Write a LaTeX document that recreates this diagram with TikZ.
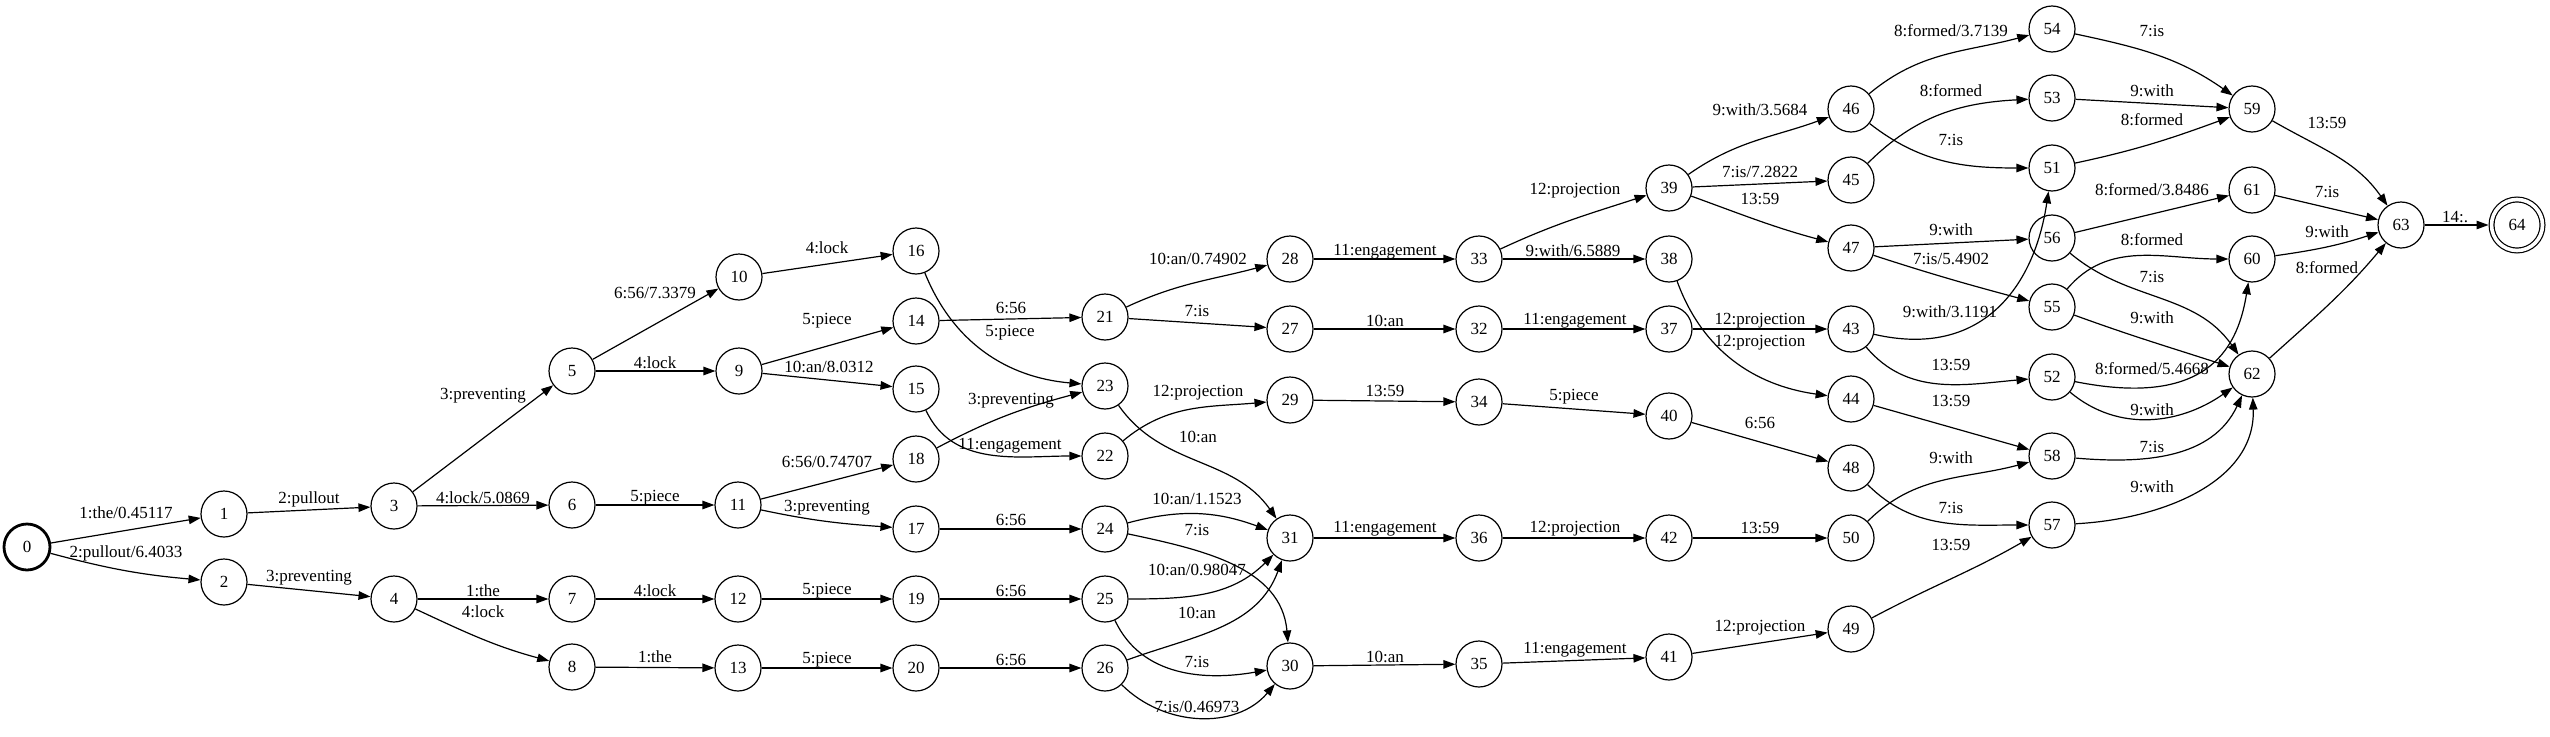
\documentclass[tikz,border=0pt]{standalone}
\usepackage{fontspec}
\setmainfont{Liberation Serif}
\usetikzlibrary{arrows.meta}
\begin{document}
\begin{tikzpicture}[x=1pt,y=1pt,
  st/.style={circle,draw,line width=1.2pt,minimum size=46pt,inner sep=0pt,font=\fontsize{17}{20}\selectfont},
  lbl/.style={inner sep=0pt,font=\fontsize{17}{20}\selectfont},
  e/.style={line width=1.2pt,-{Triangle[length=12pt,width=8.5pt]}}]
\useasboundingbox (0,0) rectangle (2550,-736);
% states
\node[st,line width=2.8pt] (n0) at (27,-547) {0};
\node[st] (n1) at (224,-514) {1};
\node[st] (n2) at (224,-582) {2};
\node[st] (n3) at (394,-506) {3};
\node[st] (n4) at (394,-599) {4};
\node[st] (n5) at (572,-371) {5};
\node[st] (n6) at (572,-505) {6};
\node[st] (n7) at (572,-599) {7};
\node[st] (n8) at (572,-667) {8};
\node[st] (n9) at (739,-371) {9};
\node[st] (n10) at (739,-277) {10};
\node[st] (n11) at (738,-505) {11};
\node[st] (n12) at (738,-599) {12};
\node[st] (n13) at (738,-668) {13};
\node[st] (n14) at (916,-321) {14};
\node[st] (n15) at (916,-389) {15};
\node[st] (n16) at (916,-251) {16};
\node[st] (n17) at (916,-529) {17};
\node[st] (n18) at (916,-459) {18};
\node[st] (n19) at (916,-599) {19};
\node[st] (n20) at (916,-668) {20};
\node[st] (n21) at (1105,-317) {21};
\node[st] (n22) at (1105,-456) {22};
\node[st] (n23) at (1105,-386) {23};
\node[st] (n24) at (1105,-529) {24};
\node[st] (n25) at (1105,-599) {25};
\node[st] (n26) at (1105,-668) {26};
\node[st] (n27) at (1290,-329) {27};
\node[st] (n28) at (1290,-259) {28};
\node[st] (n29) at (1290,-400) {29};
\node[st] (n30) at (1290,-666) {30};
\node[st] (n31) at (1290,-538) {31};
\node[st] (n32) at (1479,-329) {32};
\node[st] (n33) at (1479,-259) {33};
\node[st] (n34) at (1479,-402) {34};
\node[st] (n35) at (1479,-664) {35};
\node[st] (n36) at (1479,-538) {36};
\node[st] (n37) at (1669,-329) {37};
\node[st] (n38) at (1669,-259) {38};
\node[st] (n39) at (1669,-188) {39};
\node[st] (n40) at (1669,-416) {40};
\node[st] (n41) at (1669,-657) {41};
\node[st] (n42) at (1669,-538) {42};
\node[st] (n43) at (1851,-329) {43};
\node[st] (n44) at (1851,-399) {44};
\node[st] (n45) at (1851,-180) {45};
\node[st] (n46) at (1851,-109) {46};
\node[st] (n47) at (1851,-248) {47};
\node[st] (n48) at (1851,-468) {48};
\node[st] (n49) at (1851,-629) {49};
\node[st] (n50) at (1851,-538) {50};
\node[st] (n51) at (2052,-168) {51};
\node[st] (n52) at (2052,-377) {52};
\node[st] (n53) at (2052,-98) {53};
\node[st] (n54) at (2052,-29) {54};
\node[st] (n55) at (2052,-307) {55};
\node[st] (n56) at (2052,-238) {56};
\node[st] (n57) at (2052,-525) {57};
\node[st] (n58) at (2052,-456) {58};
\node[st] (n59) at (2252,-109) {59};
\node[st] (n60) at (2252,-259) {60};
\node[st] (n61) at (2252,-190) {61};
\node[st] (n62) at (2252,-374) {62};
\node[st] (n63) at (2401,-225) {63};
\node[st,minimum size=51pt,double,double distance=3.6pt,outer sep=3pt] (n64) at (2517,-225) {64};
% arcs
\draw[e] (n0) -- (n1) node[lbl] at (126,-513) {1:the/0.45117};
\draw[e] (n0) to[out=-15,in=175] (n2) node[lbl] at (126,-553) {2:pullout/6.4033};
\draw[e] (n1) -- (n3) node[lbl] at (309,-499) {2:pullout};
\draw[e] (n2) -- (n4) node[lbl] at (309,-578) {3:preventing};
\draw[e] (n3) -- (n5) node[lbl] at (483,-396) {3:preventing};
\draw[e] (n3) -- (n6) node[lbl] at (483,-498) {4:lock/5.0869};
\draw[e] (n4) -- (n7) node[lbl] at (483,-591) {1:the};
\draw[e] (n4) to[out=-25,in=165] (n8) node[lbl] at (483,-612) {4:lock};
\draw[e] (n5) -- (n10) node[lbl] at (655,-293) {6:56/7.3379};
\draw[e] (n5) -- (n9) node[lbl] at (655,-363) {4:lock};
\draw[e] (n6) -- (n11) node[lbl] at (655,-498) {5:piece};
\draw[e] (n7) -- (n12) node[lbl] at (655,-591) {4:lock};
\draw[e] (n8) -- (n13) node[lbl] at (655,-657) {1:the};
\draw[e] (n10) -- (n16) node[lbl] at (827,-248) {4:lock};
\draw[e] (n9) -- (n14) node[lbl] at (827,-321) {5:piece};
\draw[e] (n9) -- (n15) node[lbl] at (829,-367) {10:an/8.0312};
\draw[e] (n11) -- (n18) node[lbl] at (827,-462) {6:56/0.74707};
\draw[e] (n11) to[out=-12,in=176] (n17) node[lbl] at (827,-508) {3:preventing};
\draw[e] (n12) -- (n19) node[lbl] at (827,-591) {5:piece};
\draw[e] (n13) -- (n20) node[lbl] at (827,-660) {5:piece};
\draw[e] (n14) -- (n21) node[lbl] at (1011,-308) {6:56};
\draw[e] (n16) to[out=-68,in=175] (n23) node[lbl] at (1010,-333) {5:piece};
\draw[e] (n15) to[out=-65,in=180] (n22) node[lbl] at (1010,-446) {11:engagement};
\draw[e] (n18) to[out=28,in=195] (n23) node[lbl] at (1011,-401) {3:preventing};
\draw[e] (n17) -- (n24) node[lbl] at (1011,-520) {6:56};
\draw[e] (n19) -- (n25) node[lbl] at (1011,-591) {6:56};
\draw[e] (n20) -- (n26) node[lbl] at (1011,-660) {6:56};
\draw[e] (n21) to[out=25,in=195] (n28) node[lbl] at (1198,-259) {10:an/0.74902};
\draw[e] (n21) -- (n27) node[lbl] at (1197,-311) {7:is};
\draw[e] (n22) to[out=40,in=185] (n29) node[lbl] at (1198,-393) {12:projection};
\draw[e] (n23) to[out=-55,in=125] (n31) node[lbl] at (1198,-437) {10:an};
\draw[e] (n24) to[out=15,in=160] (n31) node[lbl] at (1197,-499) {10:an/1.1523};
\draw[e] (n24) to[out=-12,in=95] (n30) node[lbl] at (1197,-530) {7:is};
\draw[e] (n25) to[out=0,in=-135] (n31) node[lbl] at (1197,-570) {10:an/0.98047};
\draw[e] (n25) to[out=-65,in=190] (n30) node[lbl] at (1197,-662) {7:is};
\draw[e] (n26) to[out=20,in=-110] (n31) node[lbl] at (1197,-613) {10:an};
\draw[e] (n26) to[out=-45,in=-130] (n30) node[lbl] at (1197,-707) {7:is/0.46973};
\draw[e] (n27) -- (n32) node[lbl] at (1385,-321) {10:an};
\draw[e] (n28) -- (n33) node[lbl] at (1385,-252) {11:engagement};
\draw[e] (n29) -- (n34) node[lbl] at (1385,-391) {13:59};
\draw[e] (n31) -- (n36) node[lbl] at (1385,-529) {11:engagement};
\draw[e] (n30) -- (n35) node[lbl] at (1385,-657) {10:an};
\draw[e] (n33) to[out=25,in=198] (n39) node[lbl] at (1575,-191) {12:projection};
\draw[e] (n33) -- (n38) node[lbl] at (1573,-251) {9:with/6.5889};
\draw[e] (n32) -- (n37) node[lbl] at (1575,-321) {11:engagement};
\draw[e] (n34) -- (n40) node[lbl] at (1574,-397) {5:piece};
\draw[e] (n36) -- (n42) node[lbl] at (1575,-529) {12:projection};
\draw[e] (n35) -- (n41) node[lbl] at (1575,-650) {11:engagement};
\draw[e] (n39) to[out=35,in=200] (n46) node[lbl] at (1760,-110) {9:with/3.5684};
\draw[e] (n39) -- (n45) node[lbl] at (1760,-172) {7:is/7.2822};
\draw[e] (n39) to[out=-20,in=165] (n47) node[lbl] at (1760,-199) {13:59};
\draw[e] (n38) to[out=-70,in=172] (n44) node[lbl] at (1760,-343) {12:projection};
\draw[e] (n37) -- (n43) node[lbl] at (1760,-321) {12:projection};
\draw[e] (n40) -- (n48) node[lbl] at (1760,-423) {6:56};
\draw[e] (n42) -- (n50) node[lbl] at (1760,-528) {13:59};
\draw[e] (n41) -- (n49) node[lbl] at (1760,-628) {12:projection};
\draw[e] (n46) to[out=40,in=195] (n54) node[lbl] at (1951,-31) {8:formed/3.7139};
\draw[e] (n46) to[out=-38,in=180] (n51) node[lbl] at (1951,-140) {7:is};
\draw[e] (n45) to[out=45,in=183] (n53) node[lbl] at (1951,-91) {8:formed};
\draw[e] (n47) -- (n56) node[lbl] at (1951,-230) {9:with};
\draw[e] (n47) to[out=-18,in=165] (n55) node[lbl] at (1951,-259) {7:is/5.4902};
\draw[e] (n43) .. controls +(130,-30) and +(-18,-120) .. (n51) node[lbl] at (1950,-312) {9:with/3.1191};
\draw[e] (n43) to[out=-50,in=185] (n52) node[lbl] at (1951,-365) {13:59};
\draw[e] (n44) -- (n58) node[lbl] at (1951,-401) {13:59};
\draw[e] (n48) to[out=-45,in=180] (n57) node[lbl] at (1951,-508) {7:is};
\draw[e] (n50) to[out=45,in=195] (n58) node[lbl] at (1951,-458) {9:with};
\draw[e] (n49) to[out=28,in=210] (n57) node[lbl] at (1951,-545) {13:59};
\draw[e] (n54) to[out=-12,in=145] (n59) node[lbl] at (2152,-31) {7:is};
\draw[e] (n53) -- (n59) node[lbl] at (2152,-91) {9:with};
\draw[e] (n51) to[out=12,in=200] (n59) node[lbl] at (2152,-120) {8:formed};
\draw[e] (n56) -- (n61) node[lbl] at (2152,-190) {8:formed/3.8486};
\draw[e] (n55) to[out=50,in=180] (n60) node[lbl] at (2152,-240) {8:formed};
\draw[e] (n56) to[out=-40,in=125] (n62) node[lbl] at (2152,-277) {7:is};
\draw[e] (n55) to[out=-20,in=162] (n62) node[lbl] at (2152,-318) {9:with};
\draw[e] (n52) .. controls +(150,-30) and +(-15,-95) .. (n60) node[lbl] at (2152,-369) {8:formed/5.4668};
\draw[e] (n52) to[out=-40,in=-145] (n62) node[lbl] at (2152,-410) {9:with};
\draw[e] (n58) to[out=-5,in=-115] (n62) node[lbl] at (2152,-447) {7:is};
\draw[e] (n57) to[out=3,in=-88] (n62) node[lbl] at (2152,-487) {9:with};
\draw[e] (n59) to[out=-30,in=125] (n63) node[lbl] at (2327,-123) {13:59};
\draw[e] (n61) -- (n63) node[lbl] at (2327,-192) {7:is};
\draw[e] (n60) to[out=8,in=198] (n63) node[lbl] at (2327,-232) {9:with};
\draw[e] (n62) to[out=42,in=-130] (n63) node[lbl] at (2327,-268) {8:formed};
\draw[e] (n63) -- (n64) node[lbl] at (2455,-217) {14:.};
\end{tikzpicture}
\end{document}
